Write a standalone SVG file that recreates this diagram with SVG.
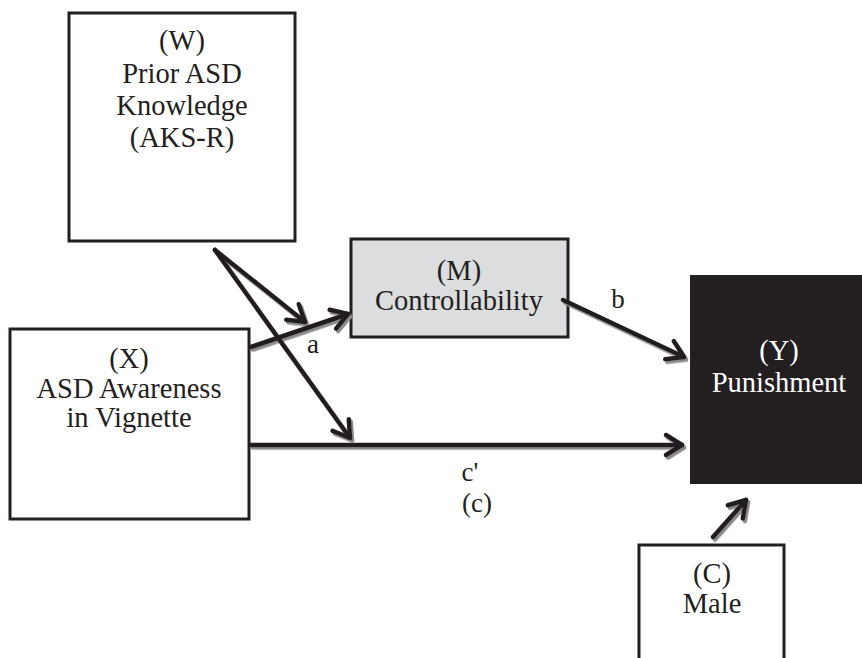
<svg xmlns="http://www.w3.org/2000/svg" width="862" height="658" viewBox="0 0 862 658">
<defs>
<style>
.box{stroke:#231f20;stroke-width:3}
.t{font-family:'Liberation Serif','DejaVu Serif',serif;font-size:28.5px;fill:#231f20;text-anchor:middle}
.tw{fill:#ffffff}
.lab{font-family:'Liberation Serif','DejaVu Serif',serif;font-size:27px;fill:#231f20;text-anchor:middle}
.c{fill:none;stroke:#231f20;stroke-width:4.5;stroke-linecap:round}
</style>
<marker id="ah" markerUnits="userSpaceOnUse" markerWidth="30" markerHeight="30" viewBox="-20 -15 30 30" refX="0" refY="0" orient="auto">
<path d="M-16,-10 L0,0 L-16,10" fill="none" stroke="#231f20" stroke-width="4.5" stroke-linecap="round" stroke-linejoin="round"/>
</marker>
<filter id="sh" x="-10%" y="-10%" width="130%" height="130%">
<feDropShadow dx="2" dy="2.5" stdDeviation="0.6" flood-color="#8a8a8a" flood-opacity="1"/>
</filter>
</defs>
<rect width="862" height="658" fill="#ffffff"/>
<g id="node-W">
<rect class="box" x="69" y="13" width="226" height="228" fill="#ffffff"/>
<text class="t" x="182" y="50">(W)</text>
<text class="t" x="182" y="83">Prior ASD</text>
<text class="t" x="182" y="115">Knowledge</text>
<text class="t" x="182" y="147">(AKS-R)</text>
</g>
<g id="node-X">
<rect class="box" x="10" y="329" width="239" height="190" fill="#ffffff"/>
<text class="t" x="129" y="368">(X)</text>
<text class="t" x="129" y="398">ASD Awareness</text>
<text class="t" x="129" y="427">in Vignette</text>
</g>
<g id="node-M">
<rect class="box" x="351" y="239" width="217" height="98" fill="#dcdddf"/>
<text class="t" x="459" y="280">(M)</text>
<text class="t" x="459" y="310">Controllability</text>
</g>
<g id="node-Y">
<rect x="690" y="275" width="175" height="209" fill="#231f20"/>
<text class="t tw" x="779" y="360">(Y)</text>
<text class="t tw" x="779" y="392">Punishment</text>
</g>
<g id="node-C">
<rect class="box" x="639" y="545" width="145" height="120" fill="#ffffff"/>
<text class="t" x="712" y="583">(C)</text>
<text class="t" x="712" y="613">Male</text>
</g>
<g id="connectors" filter="url(#sh)">
<line class="c" x1="215" y1="250" x2="305" y2="322" marker-end="url(#ah)"/>
<line class="c" x1="215" y1="250" x2="350" y2="438" marker-end="url(#ah)"/>
<line class="c" x1="251" y1="347" x2="348" y2="314" marker-end="url(#ah)"/>
<line class="c" x1="251" y1="445" x2="682" y2="445" marker-end="url(#ah)"/>
<line class="c" x1="563" y1="300" x2="684" y2="357" marker-end="url(#ah)"/>
<line class="c" x1="713" y1="537" x2="746" y2="500" marker-end="url(#ah)"/>
</g>
<g id="labels">
<text class="lab" x="313" y="353">a</text>
<text class="lab" x="618" y="308">b</text>
<text class="lab" x="470" y="481">c'</text>
<text class="lab" x="477" y="512">(c)</text>
</g>
</svg>
